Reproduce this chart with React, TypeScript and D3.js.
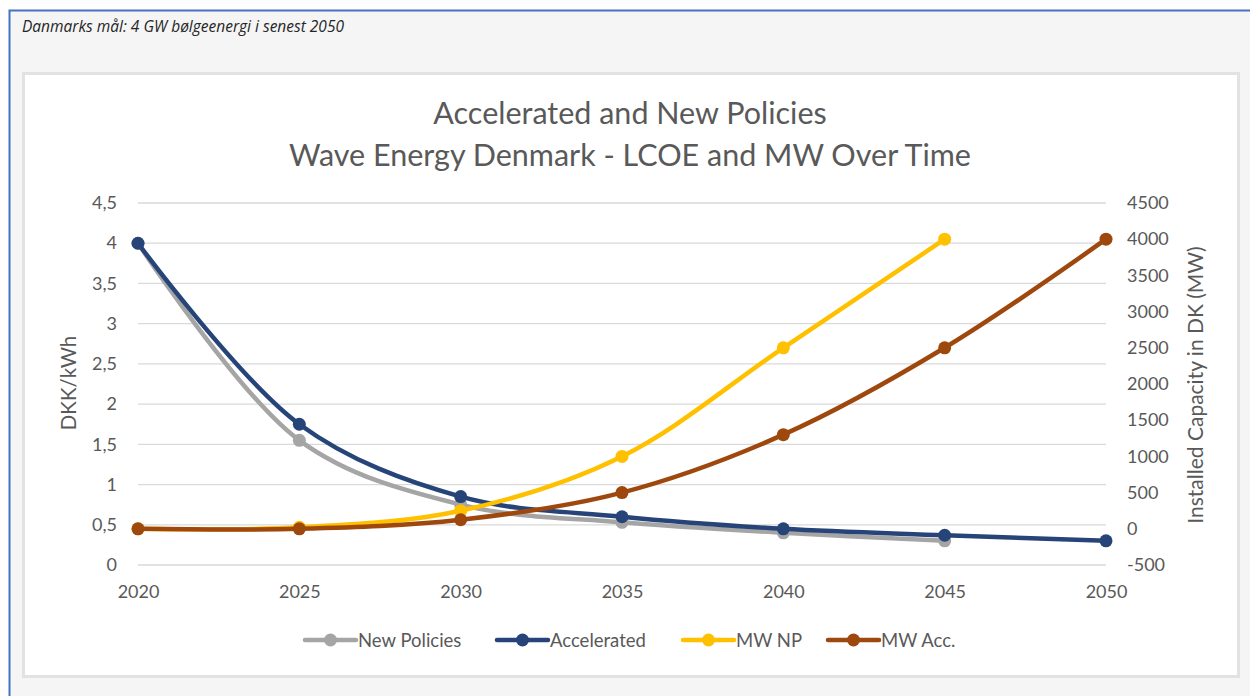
import * as d3 from "d3";
import { useEffect, useRef } from "react";

const years = ["2020", "2025", "2030", "2035", "2040", "2045", "2050"];

// DKK/kWh (left axis)
const newPolicies = [4, 1.55, 0.75, 0.53, 0.4, 0.3, null];
const accelerated = [4, 1.75, 0.85, 0.6, 0.45, 0.37, 0.3];

// MW (right axis)
const mwNP = [0, 20, 250, 1000, 2500, 4000, null];
const mwAcc = [0, 0, 125, 500, 1300, 2500, 4000];

const leftTicks = [0, 0.5, 1, 1.5, 2, 2.5, 3, 3.5, 4, 4.5];
const rightTicks = [-500, 0, 500, 1000, 1500, 2000, 2500, 3000, 3500, 4000, 4500];

const seriesInfo = [
  { name: "New Policies", values: newPolicies, axis: "left", color: "#a5a5a5" },
  { name: "Accelerated", values: accelerated, axis: "left", color: "#264478" },
  { name: "MW NP", values: mwNP, axis: "right", color: "#ffc000" },
  { name: "MW Acc.", values: mwAcc, axis: "right", color: "#9e480e" },
];

const FONT = "Lato, 'Open Sans', sans-serif";
const GREY_TEXT = "#595959";

const drawChart = (element: HTMLDivElement) => {
  d3.select(element).select("svg").remove();

  const W = 1250;
  const H = 696;

  const svg = d3
    .select(element)
    .append("svg")
    .attr("width", W)
    .attr("height", H)
    .style("position", "absolute")
    .style("left", "0px")
    .style("top", "0px");

  // page background + blue frame
  svg.append("rect").attr("x", 0).attr("y", 0).attr("width", W).attr("height", H).attr("fill", "#ffffff");
  svg.append("rect")
    .attr("x", 9.5).attr("y", 10.5).attr("width", W + 20).attr("height", H + 20)
    .attr("fill", "#f5f5f5").attr("stroke", "#4472c4").attr("stroke-width", 2);

  svg.append("text")
    .attr("x", 22).attr("y", 32)
    .attr("font-family", "'Open Sans', sans-serif")
    .attr("font-style", "italic")
    .attr("font-size", "15.5px")
    .attr("fill", "#262626")
    .text("Danmarks mål: 4 GW bølgeenergi i senest 2050");

  // white chart panel with soft border
  svg.append("rect")
    .attr("x", 23.5).attr("y", 73.5).attr("width", 1215).attr("height", 603)
    .attr("fill", "#ffffff").attr("stroke", "#e2e2e2").attr("stroke-width", 3);

  const plot = { left: 138, right: 1106, top: 203, bottom: 565 };

  const x = d3.scalePoint<string>().domain(years).range([plot.left, plot.right]).padding(0);
  const yL = d3.scaleLinear().domain([0, 4.5]).range([plot.bottom, plot.top]);
  const yR = d3.scaleLinear().domain([-500, 4500]).range([plot.bottom, plot.top]);

  // titles
  const title = svg.append("text")
    .attr("text-anchor", "middle")
    .attr("font-family", FONT)
    .attr("font-size", "30.5px")
    .attr("fill", GREY_TEXT);
  title.append("tspan").attr("x", 630).attr("y", 124).text("Accelerated and New Policies");
  title.append("tspan").attr("x", 630).attr("y", 166).text("Wave Energy Denmark - LCOE and MW Over Time");

  // gridlines
  svg.append("g")
    .selectAll("line")
    .data(leftTicks)
    .enter()
    .append("line")
    .attr("x1", plot.left).attr("x2", plot.right)
    .attr("y1", (d) => yL(d)).attr("y2", (d) => yL(d))
    .attr("stroke", "#d9d9d9").attr("stroke-width", 1.3);

  const fmt = (d: number) => String(d).replace(".", ",");

  const leftAxis = d3.axisLeft(yL).tickValues(leftTicks).tickFormat((d) => fmt(d as number)).tickSize(0).tickPadding(21);
  const gL = svg.append("g").attr("transform", `translate(${plot.left},0)`).call(leftAxis);

  const rightAxis = d3.axisRight(yR).tickValues(rightTicks).tickFormat((d) => String(d)).tickSize(0).tickPadding(21);
  const gR = svg.append("g").attr("transform", `translate(${plot.right},0)`).call(rightAxis);

  const bottomAxis = d3.axisBottom(x).tickSize(0).tickPadding(20);
  const gB = svg.append("g").attr("transform", `translate(0,${plot.bottom})`).call(bottomAxis);

  [gL, gR, gB].forEach((g) => {
    g.select(".domain").remove();
    g.selectAll("text")
      .attr("font-family", FONT)
      .attr("font-size", "18px")
      .attr("fill", GREY_TEXT);
  });

  svg.append("text")
    .attr("transform", `translate(76,383) rotate(-90)`)
    .attr("text-anchor", "middle")
    .attr("font-family", FONT).attr("font-size", "20.5px").attr("fill", GREY_TEXT)
    .text("DKK/kWh");

  svg.append("text")
    .attr("transform", `translate(1203,385) rotate(-90)`)
    .attr("text-anchor", "middle")
    .attr("font-family", FONT).attr("font-size", "21px").attr("fill", GREY_TEXT)
    .text("Installed Capacity in DK (MW)");

  // series
  seriesInfo.forEach((s) => {
    const yS = s.axis === "left" ? yL : yR;
    const pts = years
      .map((yr, k) => ({ yr, v: s.values[k] }))
      .filter((p) => p.v !== null) as { yr: string; v: number }[];

    const line = d3.line<{ yr: string; v: number }>()
      .x((d) => x(d.yr) as number)
      .y((d) => yS(d.v))
      .curve(d3.curveCatmullRom.alpha(0.5));

    const g = svg.append("g");
    g.append("path")
      .datum(pts)
      .attr("d", line)
      .attr("fill", "none")
      .attr("stroke", s.color)
      .attr("stroke-width", 4.5)
      .attr("stroke-linejoin", "round")
      .attr("stroke-linecap", "round");

    g.selectAll("circle")
      .data(pts)
      .enter()
      .append("circle")
      .attr("cx", (d) => x(d.yr) as number)
      .attr("cy", (d) => yS(d.v))
      .attr("r", 6.5)
      .attr("fill", s.color);
  });

  // legend
  const legendX = [305, 497, 683, 828];
  const legendY = 640;
  const lg = svg.append("g");
  seriesInfo.forEach((s, i) => {
    const lx = legendX[i];
    lg.append("line")
      .attr("x1", lx).attr("x2", lx + 51)
      .attr("y1", legendY).attr("y2", legendY)
      .attr("stroke", s.color).attr("stroke-width", 4.5)
      .attr("stroke-linecap", "round");
    lg.append("circle").attr("cx", lx + 25.5).attr("cy", legendY).attr("r", 6.5).attr("fill", s.color);
    lg.append("text")
      .attr("x", lx + 53).attr("y", legendY + 6.5)
      .attr("font-family", FONT).attr("font-size", "18.5px").attr("fill", GREY_TEXT)
      .text(s.name);
  });
};

const App = () => {
  const ref = useRef<HTMLDivElement>(null);
  useEffect(() => {
    if (ref.current) drawChart(ref.current);
  }, [ref]);
  return <div ref={ref} style={{ width: 1250, height: 696 }} />;
};

export default App;
